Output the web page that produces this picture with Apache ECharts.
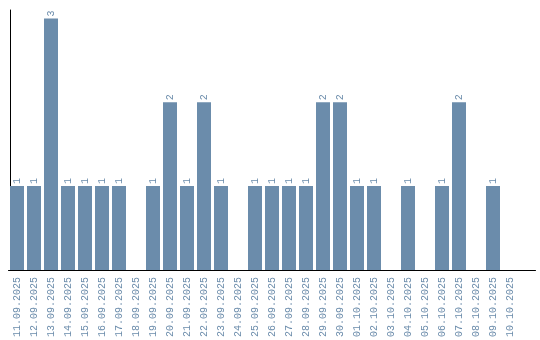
<!DOCTYPE html>
<html><head><meta charset="utf-8">
<script src="https://cdn.jsdelivr.net/npm/echarts@6/dist/echarts.min.js"></script>
<style>html,body{margin:0;padding:0;background:#fff}#c{width:540px;height:340px}</style>
</head><body><div id="c"></div>
<script>
var categories = ['11.09.2025','12.09.2025','13.09.2025','14.09.2025','15.09.2025','16.09.2025','17.09.2025','18.09.2025','19.09.2025','20.09.2025','21.09.2025','22.09.2025','23.09.2025','24.09.2025','25.09.2025','26.09.2025','27.09.2025','28.09.2025','29.09.2025','30.09.2025','01.10.2025','02.10.2025','03.10.2025','04.10.2025','05.10.2025','06.10.2025','07.10.2025','08.10.2025','09.10.2025','10.10.2025'];
var counts = [1,1,3,1,1,1,1,0,1,2,1,2,1,0,1,1,1,1,2,2,1,1,0,1,0,1,2,0,1,0];
var barColor = '#6b8cab';
var chart = echarts.init(document.getElementById('c'), null, {renderer:'canvas'});
chart.setOption({
  animation:false,
  grid:{left:8.5, right:4.5, top:10, bottom:70},
  xAxis:{type:'category', data:categories, max:categories.length,
    axisLine:{lineStyle:{color:'#000', width:1}}, axisTick:{show:false},
    axisLabel:{rotate:90, interval:0, color:barColor, fontFamily:'Liberation Mono', fontSize:10, margin:7,
      formatter:function(v){return (v===undefined||v===null||/^\d+$/.test(v))?'':v;}}},
  yAxis:{type:'value', min:0, max:3.1, offset:-1.5,
    axisLine:{show:true, lineStyle:{color:'#000', width:1}}, axisTick:{show:false}, axisLabel:{show:false}, splitLine:{show:false}},
  series:[{type:'bar', data:counts, barWidth:14, itemStyle:{color:barColor},
    label:{show:true, position:'top', rotate:90, align:'left', verticalAlign:'middle', distance:2,
      color:barColor, fontFamily:'Liberation Mono', fontSize:10,
      formatter:function(p){return p.value>0?String(p.value):'';}}}]
});
</script></body></html>
